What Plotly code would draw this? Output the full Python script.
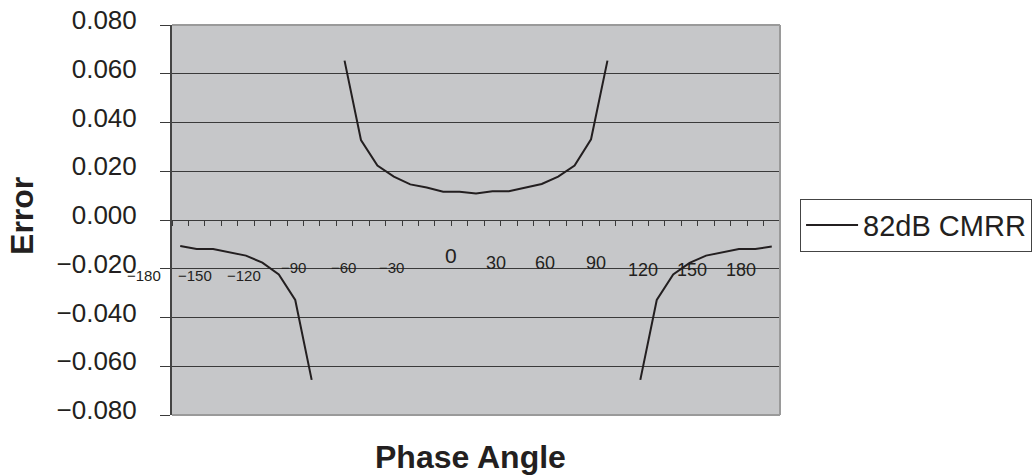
import plotly.graph_objects as go

# ---------------- data ----------------
phase_angle = [-180, -170, -160, -150, -140, -130, -120, -110, -100, -90,
               -80, -70, -60, -50, -40, -30, -20, -10, 0, 10, 20, 30, 40,
               50, 60, 70, 80, 90, 100, 110, 120, 130, 140, 150, 160, 170, 180]
error_82db = [-0.0107, -0.0119, -0.0119, -0.0131, -0.0146, -0.0175, -0.0223, -0.0328, -0.0656, None,
              0.0654, 0.0328, 0.0223, 0.0178, 0.0146, 0.0133, 0.0116, 0.0116, 0.0109, 0.0118, 0.0118,
              0.0134, 0.0148, 0.0178, 0.0223, 0.0331, 0.0654, None,
              -0.0656, -0.0328, -0.0223, -0.0176, -0.0146, -0.0131, -0.0119, -0.0119, -0.0109]
series_name = "82dB CMRR"

y_tick_vals = [0.08, 0.06, 0.04, 0.02, 0.0, -0.02, -0.04, -0.06, -0.08]
y_tick_text = ["0.080", "0.060", "0.040", "0.020", "0.000",
               "\u22120.020", "\u22120.040", "\u22120.060", "\u22120.080"]

x_label_vals = [-180, -150, -120, -90, -60, -30, 0, 30, 60, 90, 120, 150, 180]
x_label_text = ["\u2212180", "\u2212150", "\u2212120", "\u221290", "\u221260", "\u221230",
                "0", "30", "60", "90", "120", "150", "180"]

x_title = "Phase Angle"
y_title = "Error"

# ---------------- style ----------------
FONT = "Liberation Sans, Arial, Helvetica, sans-serif"
INK = "#231f20"
GRID = "#3a3a3a"
BG = "#c6c7c9"
EDGE = "#9a9a9a"

# per-label placement (pixel shifts, font size) for the hand-placed x labels
label_xshift = [-36, -35, -35, -35, -34, -35, -25, -29, -30, -28, -30, -30, -31]
label_ypx = [275, 275, 275, 267, 267, 267, 255, 263, 263, 263, 270, 270, 270]
label_size = [15, 15, 15, 15, 15, 15, 21, 18, 18, 18, 18, 18, 18]

fig = go.Figure()
fig.add_trace(go.Scatter(
    x=phase_angle, y=error_82db, mode="lines", name=series_name,
    line=dict(color=INK, width=2), connectgaps=False,
))

ZERO_PX = 220
annotations = []
for v, t, dx, ypx, sz in zip(x_label_vals, x_label_text, label_xshift, label_ypx, label_size):
    annotations.append(dict(
        x=v, xref="x", y=0.5, yref="paper", text=t, showarrow=False,
        xanchor="center", yanchor="middle", xshift=dx, yshift=ZERO_PX - ypx,
        font=dict(family=FONT, size=sz, color=INK),
    ))
annotations.append(dict(
    x=0.491, xref="paper", y=-0.108, yref="paper", text=f"<b>{x_title}</b>",
    showarrow=False, xanchor="center", yanchor="middle",
    font=dict(family=FONT, size=32, color=INK),
))
annotations.append(dict(
    x=-0.247, xref="paper", y=0.51, yref="paper", text=f"<b>{y_title}</b>",
    showarrow=False, xanchor="center", yanchor="middle", textangle=-90,
    font=dict(family=FONT, size=32, color=INK),
))

shapes = [
    dict(type="line", xref="paper", yref="paper", x0=0, x1=1, y0=1, y1=1,
         line=dict(color=EDGE, width=2), layer="above"),
    dict(type="line", xref="paper", yref="paper", x0=0, x1=1, y0=0, y1=0,
         line=dict(color=EDGE, width=2), layer="above"),
    dict(type="line", xref="paper", yref="paper", x0=1, x1=1, y0=0, y1=1,
         line=dict(color=EDGE, width=2), layer="above"),
]

fig.update_layout(
    width=1032, height=476,
    margin=dict(l=172, r=252, t=25, b=61, autoexpand=False),
    paper_bgcolor="white", plot_bgcolor=BG,
    font=dict(family=FONT, color=INK),
    showlegend=True,
    legend=dict(
        x=1.033, y=0.555, xanchor="left", yanchor="top",
        bordercolor="#444444", borderwidth=1, bgcolor="white",
        font=dict(family=FONT, size=29, color=INK),
        itemwidth=52,
    ),
    annotations=annotations,
    shapes=shapes,
    xaxis=dict(
        range=[-185, 185], anchor="free", position=0.5,
        showgrid=False, zeroline=False,
        showline=True, linecolor=GRID, linewidth=1,
        ticks="outside", ticklen=5, tickcolor=GRID, tickwidth=1,
        tick0=-185, dtick=10, showticklabels=False,
    ),
    yaxis=dict(
        range=[-0.08, 0.08], domain=[0, 1],
        tickvals=y_tick_vals, ticktext=y_tick_text,
        showgrid=True, gridcolor=GRID, gridwidth=1,
        zeroline=False,
        showline=True, linecolor="#444444", linewidth=2,
        ticks="outside", ticklen=10, tickcolor=GRID, tickwidth=1,
        ticklabelstandoff=18, ticklabelshift=-5,
        tickfont=dict(family=FONT, size=26, color=INK),
    ),
)

fig.write_html("out.html", config={"displayModeBar": False},
               post_script="document.body.style.margin='0';")
